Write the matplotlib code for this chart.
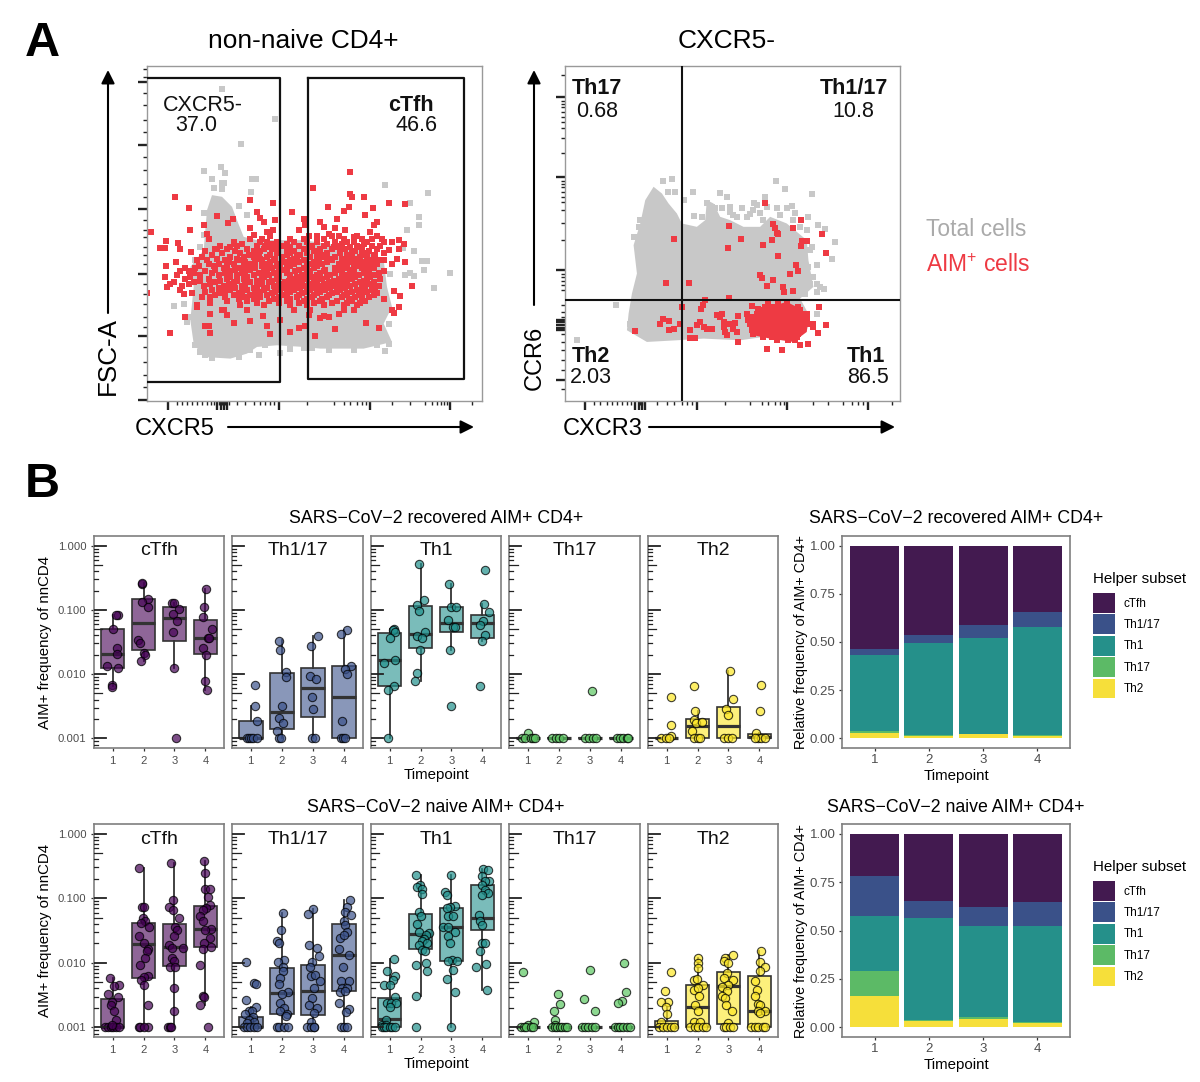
import numpy as np
import matplotlib
matplotlib.use("Agg")
import matplotlib.pyplot as plt
from matplotlib.patches import Patch

plt.rcParams['font.family'] = 'Liberation Sans'
plt.rcParams['mathtext.default'] = 'regular'

W, H = 1200, 1082
subsets = ['cTfh', 'Th1/17', 'Th1', 'Th17', 'Th2']
colors = ['#440154', '#3B528B', '#21908C', '#5DC863', '#FDE725']
stack_colors = ['#431A50', '#3A5189', '#25908A', '#5CBA66', '#F6DF3A']
red = '#EE3A43'
light_grey = '#C8C8C8'

# --- panel A, flow plots, values are plot channels ---
grey1_outline = [(365,405),(395,410),(425,440),(440,480),(460,530),(500,540),(640,540),(830,570),(880,600),
                 (890,680),(905,740),(880,790),(905,845),(820,865),(740,865),(690,865),(640,860),(560,855),
                 (500,860),(470,880),(420,895),(340,890),(310,850),(300,780),(310,680),(300,620),(340,570),
                 (345,510),(350,450)]
grey1_pts = [(395,88),(553,178),(451,252),(340,333),(393,320),(405,340),(365,358),(395,370),(400,368),(485,358),
             (498,358),(372,385),(395,388),(483,397),(883,375),(1013,398),(958,430),(985,472),(985,495),(950,510),
             (938,562),(972,572),(995,602),(1010,602),(1000,630),(960,638),(945,645),(970,648),(1078,637),(1030,684),
             (900,640),(250,738),(280,730),(505,885),(568,877),(883,872),(640,862),(470,465),(445,437),(340,460),
             (300,770),(290,785),(315,855),(895,790),(330,875),(345,885),(365,893),(445,890),(480,868),(525,855),
             (600,865),(665,862),(715,868),(790,868),(860,855),(895,850),(340,525),(330,560),(315,600),(305,640)]
red1_pts = [(780,335),(667,385),(780,402),(784,412),(820,412),(254,412),(478,420),(895,430),(945,432),(548,428),
            (714,440),(775,440),(760,452),(848,445),(297,445),(500,455),(605,455),(825,465),(380,468),(428,476),
            (412,488),(340,495),(510,475),(520,485),(555,480),(640,478),(645,495),(690,485),(740,478),(860,485),
            (850,495),(183,515),(298,510),(480,505),(548,510),(625,510),(700,500),(735,505),(765,510),(840,515),
            (350,520),(490,525),(530,515),(715,520),(790,530),(875,535),(925,540),(940,550),(228,543),(262,547),
            (355,535),(210,563),(225,563),(270,565),(302,575),(380,565),(432,550),(925,565),(895,570),(945,606),
            (258,606),(226,618),(920,595),(905,610),(880,600),(225,650),(240,672),(230,680),(170,698),(270,690),
            (280,700),(965,676),(910,692),(930,708),(925,740),(880,715),(905,750),(912,757),(320,740),(285,770),
            (360,762),(345,796),(355,796),(360,818),(238,818),(432,787),(480,782),(517,766),(530,798),(538,822),
            (570,778),(600,814),(625,802),(645,798),(675,828),(735,806),(690,772),(700,768),(715,770),(745,762),
            (828,787),(865,802),(655,765),(395,750),(410,765)]
red1_rows = [
    (528, [540,655,680,725,745,800,860]),
    (537, [355,480,515,600,640,700,760,815,845]),
    (545, [430,510,530,560,610,650,680,735,770,790,830,880,905]),
    (550, [455,545,590,710,755,820]),
    (556, [390,440,500,525,575,625,665,700,745,800,845,870]),
    (561, [420,535,560,600,655,730,780,810]),
    (567, [375,410,470,520,545,590,640,690,725,765,815,860]),
    (572, [345,435,490,510,610,670,750,795,835]),
    (578, [395,450,505,560,600,650,680,710,750,785,830,880]),
    (584, [365,475,540,590,630,695,770,815,855]),
    (589, [335,420,460,490,530,575,620,660,700,735,775,810,850]),
    (595, [380,440,510,555,610,680,720,755,795,830]),
    (600, [320,350,405,445,515,550,600,640,685,725,760,800,840,870]),
    (606, [415,465,495,540,580,625,670,710,775,815,855]),
    (611, [355,385,430,475,530,570,610,655,695,745,790,825,860]),
    (617, [325,370,410,460,515,560,600,650,680,760,800,840]),
    (622, [285,315,400,450,495,545,590,640,670,735,770,815,850]),
    (628, [375,435,480,530,575,625,705,745,785,830]),
    (633, [270,295,345,420,465,520,565,615,660,700,755,790,835,880]),
    (639, [310,365,405,455,505,550,590,650,690,735,780,820,865]),
    (644, [260,330,385,440,490,535,600,635,680,720,770,805,855]),
    (650, [300,420,470,520,565,620,665,710,755,795,840]),
    (655, [285,355,410,460,515,560,610,650,695,745,785,830,870]),
    (661, [330,390,440,500,545,595,635,680,730,770,820]),
    (666, [250,310,375,430,480,535,585,625,670,715,760,810,850]),
    (672, [295,360,415,465,515,565,610,655,700,745,795,840]),
    (677, [275,340,400,455,500,550,600,645,690,735,780,825,865]),
    (683, [385,435,490,530,585,630,675,720,765,815,855]),
    (688, [365,420,470,520,570,610,660,705,750,800,845]),
    (694, [345,405,455,510,555,600,650,690,740,785,830]),
    (699, [305,385,445,495,545,590,635,680,725,770,815,860]),
    (705, [375,430,480,530,580,625,670,715,760,805,850]),
    (711, [335,360,405,460,510,565,620,665,710,755,795,835]),
    (717, [445,490,550,600,650,695,775,815]),
    (722, [410,470,535,590,640,690,740,785,825]),
    (729, [360,500,565,625,670,725,770,810]),
    (735, [320,450,520,600,650,700,760,800]),
    (748, [400,470,610,660,760,790]),
]
gate1_x = [170, 568, 568, 170]
gate1_y = [55, 55, 965, 965]
gate2_x = [653, 1122, 1122, 653, 653]
gate2_y = [55, 55, 955, 955, 55]
ax1_ymaj = [66, 255, 447, 640, 828, 1020]
ax1_ymin = [28, 50, 100, 135, 180, 215, 290, 330, 372, 410, 480, 510, 530, 560, 585, 610,
            670, 700, 730, 770, 800, 860, 905, 945, 980]
ax1_xmaj = [232, 380, 392, 400, 410, 565, 838, 1078]
ax1_xmin = [260, 275, 290, 305, 320, 335, 350, 362, 372, 385, 396, 405, 415, 440, 465, 490, 510, 525, 540, 552,
            650, 730, 760, 780, 800, 815, 828, 905, 960, 1005, 1025, 1040, 1052, 1062, 1070, 1145]

grey2_outline = [(290,810),(295,760),(305,700),(320,640),(310,555),(330,490),(345,420),(370,380),(395,400),(415,430),
                 (440,460),(455,490),(500,500),(525,480),(530,420),(550,430),(570,470),(600,480),(640,500),(690,500),
                 (720,470),(770,490),(830,540),(835,600),(850,680),(810,715),(840,770),(830,810),(780,830),(700,830),
                 (630,840),(520,835),(440,840),(350,845)]
grey2_pts = [(397,362),(425,358),(738,362),(765,388),(845,402),(412,395),(435,395),(487,397),(570,398),(590,410),
             (705,412),(460,420),(530,430),(545,440),(490,468),(515,470),(635,445),(660,462),(672,430),(680,435),
             (785,437),(795,460),(835,470),(865,495),(885,508),(915,545),(840,570),(905,595),(860,615),(860,670),
             (882,685),(860,695),(258,735),(140,838),(330,480),(325,500),(610,465),(600,440),(700,480),(750,465),
             (860,760),(300,790),(310,530),(555,445),(575,445),(600,455),(620,470),(650,470),(670,450),(690,460),
             (710,440),(740,445),(770,445),(790,480),(810,500),(830,510),(845,560),(820,590),(835,620),(850,650),
             (870,680),(845,790),(840,670),(825,700)]
red2_core = [(700,745),(770,725),(810,745),(835,775),(830,815),(790,845),(720,835),(670,825),(665,785)]
red2_pts = [(705,430),(812,480),(597,498),(730,492),(735,505),(740,518),(745,520),(790,503),(875,520),(430,535),
            (632,535),(725,540),(815,543),(830,543),(812,558),(700,555),(592,563),(888,578),(745,587),(797,615),
            (805,632),(780,640),(690,645),(697,652),(730,660),(710,677),(408,668),(475,668),(760,680),(762,695),
            (788,692),(597,712),(525,720),(517,735),(513,747),(455,740),(665,738),(685,745),(868,740),(575,760),
            (560,765),(570,770),(397,775),(390,790),(415,782),(450,790),(313,813),(415,810),(432,805),(480,810),
            (500,795),(510,785),(520,800),(530,805),(545,805),(580,785),(600,790),(615,788),(610,805),(625,768),
            (650,760),(655,780),(660,790),(580,800),(585,815),(590,825),(620,815),(480,833),(495,833),(625,845),
            (848,790),(888,795),(865,818),(835,850),(810,855),(755,868),(710,865),(850,800)]
red2_rows = [
    (730, [715,745,770]),
    (740, [705,725,750,775,805]),
    (750, [690,710,730,755,780,810]),
    (760, [680,700,720,745,765,790,815,830]),
    (770, [670,690,710,730,750,775,800,825]),
    (780, [665,680,700,720,740,760,785,810,830]),
    (790, [670,690,710,730,750,770,795,815,830]),
    (800, [680,700,720,740,760,780,800,820]),
    (810, [665,690,710,730,750,770,790,810]),
    (820, [670,700,720,745,765,785,805]),
    (830, [700,725,755,785,800]),
    (840, [740,775,795]),
]
ax2_ymaj = [112, 352, 628, 778, 786, 794, 802, 810, 960]
ax2_ymin = [46, 122, 132, 142, 155, 170, 185, 205, 235, 280, 362, 372, 382, 395, 410, 425, 450, 490, 540,
            640, 650, 662, 675, 690, 735, 755, 770, 820, 845, 870, 900, 930, 985]
ax2_xmaj = [165, 315, 325, 335, 345, 500, 772, 1015]
ax2_xmin = [190, 210, 230, 245, 260, 275, 290, 302, 330, 340, 380, 410, 430, 455, 470, 485,
            585, 660, 695, 715, 735, 750, 762, 850, 895, 940, 965, 985, 1000, 1085]
quad_x = 454
quad_y = 718

# --- panel B, log10 AIM+ frequency, points are (timepoint with jitter, log10 freq) ---
# box stats per timepoint: whisker low, q1, median, q3, whisker high
rec_cTfh_pts = [(1.17,-1.08),(1.11,-1.08),(1.01,-1.30),(1.15,-1.59),(1.13,-1.69),(0.83,-1.87),(1.19,-1.91),(0.97,-2.17),(0.97,-2.20),
                (1.94,-0.60),(1.96,-0.58),(2.13,-0.83),(1.95,-0.87),(2.15,-0.95),(1.81,-1.47),(1.89,-1.51),(2.00,-1.67),(2.04,-1.70),(1.91,-1.79),
                (2.91,-0.89),(2.98,-0.89),(3.15,-0.99),(2.95,-1.07),(3.09,-1.17),(2.95,-1.34),(2.98,-1.91),(3.05,-3.0),
                (4.01,-0.68),(3.94,-0.96),(3.91,-1.11),(4.20,-1.29),(4.09,-1.44),(4.12,-1.44),(3.93,-1.60),(4.03,-1.71),(4.00,-2.10),(4.06,-2.25)]
rec_cTfh_box = [(-2.19,-1.91,-1.68,-1.30,-1.08),(-1.79,-1.63,-1.21,-0.83,-0.58),(-1.91,-1.48,-1.12,-0.96,-0.89),(-2.25,-1.69,-1.44,-1.15,-0.68)]

rec_Th117_pts = [(1.13,-2.17),(1.15,-2.50),(1.20,-2.73),(0.87,-3),(0.93,-3),(1.0,-3),(1.07,-3),(1.2,-3),
                 (1.90,-1.48),(1.95,-1.62),(2.14,-1.96),(2.12,-2.04),(2.0,-2.49),(1.92,-2.69),(2.05,-2.76),(1.83,-2.88),(1.91,-3),(1.97,-3),
                 (3.15,-1.40),(2.94,-1.56),(2.90,-2.03),(3.10,-2.07),(2.97,-2.36),(2.99,-2.55),(2.96,-3),(3.06,-3),
                 (4.09,-1.32),(3.91,-1.38),(4.21,-1.87),(4.03,-1.92),(4.09,-2.0),(3.93,-2.73),(3.90,-3),(3.96,-3),(4.03,-3)]
rec_Th117_box = [(-3,-3,-3,-2.73,-2.5),(-3,-2.85,-2.59,-1.98,-1.47),(-3,-2.66,-2.21,-1.91,-1.40),(-3,-3,-2.36,-1.88,-1.32)]

rec_Th1_pts = [(1.14,-1.30),(1.11,-1.32),(1.19,-1.34),(1.0,-1.44),(1.19,-1.78),(0.82,-1.82),(1.14,-2.19),(0.95,-2.25),(0.95,-3),
               (1.95,-0.28),(2.12,-0.85),(1.90,-0.93),(1.94,-1.02),(2.13,-1.35),(1.90,-1.41),(2.04,-1.44),(1.99,-1.63),(1.90,-1.98),(1.81,-2.10),
               (2.93,-0.59),(2.98,-0.96),(3.15,-0.96),(2.88,-1.15),(3.06,-1.26),(3.10,-1.26),(2.96,-1.62),(2.98,-2.49),
               (4.09,-0.38),(4.04,-0.91),(4.20,-1.04),(4.02,-1.17),(3.91,-1.23),(4.07,-1.39),(3.99,-1.48),(3.93,-2.19)]
rec_Th1_box = [(-3,-2.19,-1.78,-1.36,-1.30),(-2.10,-1.59,-1.38,-0.94,-0.28),(-1.62,-1.35,-1.20,-0.96,-0.59),(-1.48,-1.44,-1.20,-1.08,-0.91)]

rec_Th17_pts = [(1.0,-2.92),(0.82,-3),(0.91,-3),(1.11,-3),(1.17,-3),(1.22,-3),
                (1.78,-3),(1.90,-3),(2.01,-3),(2.12,-3),
                (2.85,-3),(2.98,-3),(3.09,-3),(3.19,-3),(3.06,-2.26),
                (3.86,-3),(3.97,-3),(4.04,-3),(4.18,-3),(4.23,-3)]
rec_Th17_box = [(-3,-3,-3,-3,-3)] * 4

rec_Th2_pts = [(1.13,-2.36),(1.13,-2.79),(1.15,-2.97),(0.81,-3),(0.97,-3),(1.07,-3),
               (1.90,-2.19),(1.93,-2.58),(1.89,-2.71),(1.95,-2.76),(2.14,-2.74),(1.82,-2.88),(1.90,-3),(2.01,-3),(2.09,-3),
               (3.05,-1.95),(3.14,-2.39),(2.93,-2.54),(2.98,-2.64),(2.87,-3),(2.98,-3),(3.11,-3),
               (4.05,-2.17),(4.03,-2.58),(3.90,-2.91),(3.96,-3),(4.06,-3),(4.17,-3),(3.87,-3)]
rec_Th2_box = [(-3,-3,-3,-3,-3),(-3,-3,-2.81,-2.70,-2.58),(-3,-3,-2.81,-2.51,-1.95),(-3,-3,-2.98,-2.93,-2.91)]

nv_cTfh_pts = [(0.92,-2.24),(1.2,-2.34),(1.04,-2.36),(0.86,-2.48),(1.18,-2.53),(0.99,-2.6),(0.94,-2.65),(1.04,-2.75),(1.1,-2.88),
               (0.77,-3),(0.85,-3),(0.94,-3),(1.01,-3),(1.1,-3),(1.2,-3),(0.99,-2.96),
               (1.84,-0.53),(1.95,-1.13),(2.0,-1.14),(1.98,-1.30),(2.05,-1.35),(1.91,-1.39),(2.19,-1.44),(1.84,-1.59),(2.0,-1.7),(2.13,-1.78),
               (2.11,-1.82),(2.05,-1.93),(1.88,-2.03),(2.13,-2.21),(2.0,-2.22),(1.91,-2.26),(2.02,-2.34),(2.13,-2.66),(1.84,-3),(1.89,-3),(2.13,-3),(2.0,-3),
               (2.88,-0.46),(2.94,-1.02),(2.83,-1.13),(2.95,-1.19),(3.13,-1.3),(3.02,-1.44),(3.07,-1.49),(2.97,-1.59),(2.81,-1.72),(2.92,-1.77),
               (3.27,-1.77),(2.92,-1.93),(2.99,-1.98),(2.86,-2.06),(3.02,-2.06),(3.0,-2.39),(3.0,-2.75),(2.78,-3),(2.84,-3),(2.9,-3),
               (3.95,-0.42),(4.0,-0.61),(4.0,-0.86),(4.14,-0.86),(4.09,-0.98),(4.16,-1.1),(4.03,-1.15),(3.93,-1.18),(3.84,-1.28),(3.93,-1.36),
               (4.19,-1.48),(3.98,-1.49),(4.14,-1.62),(3.95,-1.7),(4.19,-1.75),(3.93,-1.78),(3.82,-2.03),(3.93,-2.52),(3.96,-2.53),(3.84,-2.66),(4.09,-3)]
nv_cTfh_box = [(-3,-3,-3,-2.56,-2.24),(-3,-2.23,-1.71,-1.39,-0.53),(-3,-2.05,-1.76,-1.40,-0.46),(-2.66,-1.76,-1.48,-1.12,-0.42)]

nv_Th117_pts = [(0.86,-1.99),(1.12,-2.31),(1.18,-2.33),(0.86,-2.58),(1.18,-2.68),(0.94,-2.74),(1.04,-2.75),(0.83,-2.8),(1.07,-2.84),(0.94,-2.88),
                (1.12,-2.92),(0.88,-2.93),(0.78,-3),(0.88,-3),(0.99,-3),(1.09,-3),(1.2,-3),
                (2.03,-1.23),(1.97,-1.49),(1.83,-1.66),(1.9,-1.7),(2.07,-1.95),(1.88,-1.99),(2.02,-2.07),(2.05,-2.13),(1.95,-2.24),(1.9,-2.33),
                (2.19,-2.46),(2.0,-2.48),(1.95,-2.62),(2.07,-2.7),(1.93,-2.75),(2.16,-2.8),(2.14,-2.83),(1.83,-3),(1.9,-3),(2.07,-3),(2.18,-3),
                (3.0,-1.17),(2.83,-1.24),(2.87,-1.73),(3.13,-1.77),(3.18,-1.89),(2.97,-1.99),(2.9,-2.06),(2.92,-2.21),(3.07,-2.19),(3.21,-2.28),
                (3.02,-2.39),(2.97,-2.55),(2.86,-2.65),(3.13,-2.7),(3.02,-2.78),(2.92,-2.91),(2.8,-3),(2.94,-3),(3.02,-3),(3.04,-3),
                (4.17,-1.03),(4.09,-1.13),(4.03,-1.21),(4.21,-1.26),(3.98,-1.36),(4.03,-1.41),(4.09,-1.52),(3.87,-1.61),(3.98,-1.57),(3.82,-1.79),
                (4.16,-1.88),(3.96,-2.07),(3.9,-2.29),(4.14,-2.29),(3.93,-2.39),(4.09,-2.39),(3.87,-2.45),(4.03,-2.44),(3.82,-2.63),(4.14,-2.72),
                (4.06,-2.76),(3.9,-3),(4.0,-3),(4.09,-3)]
nv_Th117_box = [(-3,-3,-3,-2.84,-2.68),(-3,-2.80,-2.47,-2.08,-1.23),(-3,-2.81,-2.44,-2.03,-1.17),(-3,-2.43,-1.88,-1.40,-1.03)]

nv_Th1_pts = [(1.14,-1.94),(0.93,-2.13),(1.17,-2.21),(1.11,-2.26),(0.82,-2.34),(1.0,-2.34),(1.17,-2.53),(0.93,-2.62),(1.06,-2.63),(1.21,-2.62),
              (1.0,-2.68),(0.87,-2.88),(0.77,-2.96),(0.87,-2.96),(0.75,-3),(0.83,-3),(0.9,-3),(1.0,-3),(1.09,-3),(1.19,-3),
              (1.85,-0.64),(1.99,-0.8),(1.88,-0.82),(2.04,-0.86),(2.06,-0.94),(1.96,-1.21),(2.02,-1.27),(1.88,-1.4),(1.94,-1.52),(2.26,-1.54),
              (2.17,-1.57),(2.1,-1.63),(2.04,-1.67),(1.94,-1.72),(2.2,-1.7),(2.04,-1.8),(2.15,-1.82),(1.85,-2.03),(2.17,-2.01),(2.2,-2.12),(1.85,-2.51),(1.85,-3),
              (3.0,-0.64),(2.8,-0.91),(2.85,-0.95),(3.12,-1.12),(2.96,-1.13),(2.85,-1.15),(2.9,-1.27),(3.06,-1.28),(2.74,-1.44),(2.9,-1.45),
              (3.12,-1.52),(2.9,-1.59),(2.96,-1.7),(3.01,-1.95),(2.9,-1.98),(3.17,-1.98),(3.06,-2.11),(2.85,-2.25),(3.12,-2.46),(3.0,-3),
              (4.02,-0.55),(4.17,-0.57),(3.97,-0.66),(4.22,-0.73),(4.07,-0.74),(3.97,-0.79),(4.07,-0.87),(4.17,-0.92),(3.97,-0.95),(3.88,-1.26),
              (3.91,-1.36),(3.97,-1.41),(3.97,-1.7),(4.07,-1.7),(3.91,-1.81),(3.8,-2.07),(4.12,-2.02),(4.14,-2.42)]
nv_Th1_box = [(-3,-3,-2.87,-2.54,-1.94),(-2.51,-1.79,-1.56,-1.25,-0.64),(-3,-1.97,-1.45,-1.15,-0.64),(-2.42,-1.49,-1.31,-0.8,-0.55)]

nv_Th17_pts = [(0.85,-2.15),(1.19,-2.91),(1.0,-2.96),(0.77,-3),(0.88,-3),(0.96,-3),(1.09,-3),(1.17,-3),
               (1.97,-2.48),(2.04,-2.64),(1.85,-2.74),(1.88,-2.88),(1.88,-2.96),(1.78,-3),(1.87,-3),(1.94,-3),(2.02,-3),(2.1,-3),(2.18,-3),(2.26,-3),
               (3.0,-2.11),(2.82,-2.56),(3.17,-2.74),(2.74,-3),(2.85,-3),(2.94,-3),(3.06,-3),(3.17,-3),
               (4.1,-2.01),(4.16,-2.45),(4.02,-2.59),(3.91,-2.63),(3.81,-3),(3.89,-3),(3.97,-3),(4.07,-3),(4.18,-3),(4.29,-3)]
nv_Th17_box = [(-3,-3,-3,-3,-3)] * 4

nv_Th2_pts = [(1.13,-2.15),(0.94,-2.43),(1.05,-2.61),(0.81,-2.6),(0.97,-2.68),(1.02,-2.8),(0.81,-2.91),(0.76,-3),(0.89,-3),(1.02,-3),(1.13,-3),(1.23,-3),
              (2.03,-1.93),(2.0,-2.01),(2.03,-2.08),(1.87,-2.26),(1.98,-2.25),(2.19,-2.34),(1.87,-2.42),(2.03,-2.39),(2.06,-2.52),(1.93,-2.65),(2.03,-2.75),
              (1.87,-2.91),(2.09,-2.91),(1.77,-3),(1.91,-3),(2.03,-3),(2.19,-3),(2.27,-3),
              (3.14,-1.88),(2.89,-1.93),(2.84,-1.98),(3.0,-2.01),(2.95,-2.16),(2.84,-2.23),(3.16,-2.26),(3.0,-2.34),(2.79,-2.37),(2.95,-2.44),(2.79,-2.51),
              (2.89,-2.55),(2.93,-2.66),(3.11,-2.74),(3.0,-2.93),(2.84,-3),(2.91,-3),(3.05,-3),(3.16,-3),
              (4.06,-1.82),(4.01,-1.99),(4.17,-2.07),(4.01,-2.12),(3.87,-2.28),(3.93,-2.42),(3.87,-2.52),(3.96,-2.64),(4.03,-2.66),(3.96,-2.75),(4.17,-2.75),
              (4.01,-2.78),(3.74,-3),(3.85,-3),(3.96,-3),(4.12,-3),(4.19,-3)]
nv_Th2_box = [(-3,-3,-3,-2.9,-2.68),(-3,-3,-2.69,-2.35,-1.93),(-3,-2.95,-2.36,-2.14,-1.88),(-3,-3,-2.74,-2.2,-1.82)]

rec_pts = [rec_cTfh_pts, rec_Th117_pts, rec_Th1_pts, rec_Th17_pts, rec_Th2_pts]
rec_box = [rec_cTfh_box, rec_Th117_box, rec_Th1_box, rec_Th17_box, rec_Th2_box]
nv_pts = [nv_cTfh_pts, nv_Th117_pts, nv_Th1_pts, nv_Th17_pts, nv_Th2_pts]
nv_box = [nv_cTfh_box, nv_Th117_box, nv_Th1_box, nv_Th17_box, nv_Th2_box]

timepoints = [1, 2, 3, 4]
# relative frequency per subset at timepoints 1-4
rec_stack = {'Th2': [.028, .012, .022, .012], 'Th17': [.008, .003, .002, .003], 'Th1': [.399, .478, .497, .562],
             'Th1/17': [.031, .041, .067, .079], 'cTfh': [.534, .466, .412, .344]}
nv_stack = {'Th2': [.16, .033, .045, .022], 'Th17': [.129, .007, .01, .006], 'Th1': [.288, .527, .47, .497],
            'Th1/17': [.207, .083, .095, .12], 'cTfh': [.216, .35, .38, .355]}

panel_x = [(94, 224), (232, 363), (371, 501), (509, 640), (648, 778)]

fig = plt.figure(figsize=(12, 10.82), dpi=100)


def add_ax(x0, y0, x1, y1):
    return fig.add_axes([x0 / W, 1 - y1 / H, (x1 - x0) / W, (y1 - y0) / H])


def ftext(x, y, s, **kw):
    kw.setdefault('va', 'baseline')
    return fig.text(x / W, 1 - y / H, s, **kw)


def arrow(x0, y0, x1, y1):
    fig.axes[0].annotate('', xy=(x1 / W, 1 - y1 / H), xytext=(x0 / W, 1 - y0 / H),
                         xycoords='figure fraction', textcoords='figure fraction', annotation_clip=False,
                         arrowprops=dict(arrowstyle='-|>', lw=1.5, color='black', mutation_scale=20, shrinkA=0, shrinkB=0))


def flow_axes(box, xlim, ylim, ymaj, ymin, xmaj, xmin):
    ax = add_ax(*box)
    ax.set_xlim(*xlim)
    ax.set_ylim(*ylim)
    ax.set_xticks(xmaj)
    ax.set_xticks(xmin, minor=True)
    ax.set_yticks(ymaj)
    ax.set_yticks(ymin, minor=True)
    ax.set_xticklabels([])
    ax.set_yticklabels([])
    ax.tick_params(which='major', length=6.5, width=1.7, color='#222222')
    ax.tick_params(which='minor', length=3.2, width=1.0, color='#222222')
    for s in ax.spines.values():
        s.set_color('#999999')
        s.set_linewidth(1)
    return ax


def rows_to_xy(rows):
    return [x for y, xs in rows for x in xs], [y for y, xs in rows for x in xs]


def flow_points(ax, outline, grey_pts, red_pts, red_rows):
    ax.fill(*zip(*outline), color=light_grey, lw=0, zorder=1)
    ax.scatter(*zip(*grey_pts), marker='s', s=14, color=light_grey, lw=0, zorder=1)
    ax.scatter(*zip(*red_pts), marker='s', s=15, color=red, lw=0, zorder=2)
    rx, ry = rows_to_xy(red_rows)
    ax.scatter(rx, ry, marker='s', s=15, color=red, lw=0, zorder=2)


# panel A
ax1 = flow_axes((147, 66, 482, 401), (170, 1175), (1022, 18), ax1_ymaj, ax1_ymin, ax1_xmaj, ax1_xmin)
flow_points(ax1, grey1_outline, grey1_pts, red1_pts, red1_rows)
ax1.plot(gate1_x, gate1_y, color='#111111', lw=1.6, zorder=3)
ax1.plot(gate2_x, gate2_y, color='#111111', lw=1.6, zorder=3)

ax2 = flow_axes((565, 66, 900, 401), (104, 1110), (1022, 18), ax2_ymaj, ax2_ymin, ax2_xmaj, ax2_xmin)
flow_points(ax2, grey2_outline, grey2_pts, red2_pts, red2_rows)
ax2.fill(*zip(*red2_core), color=red, lw=0, zorder=2)
ax2.axvline(quad_x, color='#111111', lw=1.5, zorder=3)
ax2.axhline(quad_y, color='#111111', lw=1.5, zorder=3)

ftext(25, 56, 'A', fontsize=35, fontweight='bold')
ftext(25, 497, 'B', fontsize=35, fontweight='bold')
ftext(303, 48, 'non-naive CD4+', fontsize=18.9, ha='center')
ftext(727, 48, 'CXCR5-', fontsize=19, ha='center')

for x, y, s, bold in [(163, 111, 'CXCR5-', False), (175, 131, '37.0', False), (388, 111, 'cTfh', True), (395, 131, '46.6', False),
                      (572, 94, 'Th17', True), (576, 117, '0.68', False), (820, 94, 'Th1/17', True), (832, 117, '10.8', False),
                      (572, 362, 'Th2', True), (570, 383, '2.03', False), (847, 362, 'Th1', True), (847, 383, '86.5', False)]:
    ftext(x, y, s, fontsize=15.5, fontweight='bold' if bold else 'normal', color='#111111')

ftext(108, 395, 'FSC-A', fontsize=18.7, rotation=90, ha='center', va='bottom')
ftext(135, 435, 'CXCR5', fontsize=17)
ftext(535, 390, 'CCR6', fontsize=17, rotation=90, ha='center', va='bottom')
ftext(563, 435, 'CXCR3', fontsize=17)
arrow(108, 313, 108, 70)
arrow(228, 427, 474, 427)
arrow(534, 305, 534, 70)
arrow(649, 427, 895, 427)
ftext(926, 236, 'Total cells', fontsize=16.5, color='#AAAAAA')
ftext(926, 272, r'AIM$^{+}$ cells', fontsize=16.5, color=red)


def box_panel(ax, pts, box, color, name, first, show_xlabel):
    xs, ys = zip(*pts)
    stats = [dict(whislo=10 ** b[0], q1=10 ** b[1], med=10 ** b[2], q3=10 ** b[3], whishi=10 ** b[4]) for b in box]
    rgb = matplotlib.colors.to_rgb(color)
    ax.set_yscale('log')
    ax.bxp(stats, positions=timepoints, widths=0.76, patch_artist=True, showfliers=False, showcaps=False,
           boxprops=dict(facecolor=rgb + (0.6,), edgecolor='#333333', lw=1.2),
           whiskerprops=dict(color='#333333', lw=1.3),
           medianprops=dict(color='#333333', lw=2.3, solid_capstyle='butt'), zorder=2)
    ax.scatter(xs, 10 ** np.array(ys), s=36, facecolor=rgb + (0.7,), edgecolor=(0, 0, 0, 0.75), lw=0.8, zorder=3, clip_on=False)
    ax.set_xlim(0.4, 4.6)
    ax.set_ylim(10 ** -3.15, 10 ** 0.15)
    ax.set_xticks(timepoints)
    ax.set_xticklabels(timepoints)
    ax.set_yticks([1, 0.1, 0.01, 0.001])
    ax.minorticks_off()
    if first:
        ax.set_yticklabels(['1.000', '0.100', '0.010', '0.001'])
        ax.set_ylabel('AIM+ frequency of nnCD4', fontsize=10.8, labelpad=4)
    else:
        ax.set_yticklabels([])
        ax.tick_params(axis='y', length=0)
    ax.tick_params(labelsize=8.1, labelcolor='#4D4D4D', color='#333333', length=2.5, width=0.9, pad=3)
    if not first:
        ax.tick_params(axis='y', length=0)
    # log ticks along the left side
    trans = ax.get_yaxis_transform()
    for d in [0, -1, -2, -3]:
        ax.plot([0, 0.095], [10.0 ** d] * 2, color='#222222', lw=1.3, transform=trans, zorder=4)
    for d in [-1, -2, -3, -4]:
        for m in range(2, 10):
            v = m * 10.0 ** d
            if v < 10 ** -3.15:
                continue
            ax.plot([0, 0.065 if m == 5 else 0.032], [v, v], color='#222222', lw=0.9, transform=trans, zorder=4)
    ax.text(0.5, 1 - 15 / 212, name, transform=ax.transAxes, ha='center', va='center', fontsize=14, color='#111111')
    for s in ax.spines.values():
        s.set_color('#7F7F7F')
        s.set_linewidth(1.2)
    if show_xlabel:
        ax.set_xlabel('Timepoint', fontsize=10.8, labelpad=2)


def stack_panel(ax, stack):
    bottom = np.zeros(4)
    for name, color in zip(subsets[::-1], stack_colors[::-1]):
        ax.bar(timepoints, stack[name], bottom=bottom, width=0.9, color=color, lw=0)
        bottom += np.array(stack[name])
    ax.set_xlim(0.4, 4.6)
    ax.set_ylim(-0.05, 1.05)
    ax.set_xticks(timepoints)
    ax.set_yticks([0, 0.25, 0.5, 0.75, 1.0])
    ax.set_yticklabels(['0.00', '0.25', '0.50', '0.75', '1.00'])
    ax.tick_params(labelsize=9.5, labelcolor='#4D4D4D', color='#333333', length=2.5, width=0.9, pad=2)
    ax.set_xlabel('Timepoint', fontsize=10.8, labelpad=2)
    ax.set_ylabel('Relative frequency of AIM+ CD4+', fontsize=10.4, labelpad=1)
    for s in ax.spines.values():
        s.set_color('#7F7F7F')
        s.set_linewidth(1.2)


for row_top, row_bot, pts, box, stack, title_y, stack_title, main_title in [
        (536, 748, rec_pts, rec_box, rec_stack, 523, 'SARS\u2212CoV\u22122 recovered AIM+ CD4+', 'SARS\u2212CoV\u22122 recovered AIM+ CD4+'),
        (824, 1037, nv_pts, nv_box, nv_stack, 812, 'SARS\u2212CoV\u22122 naive AIM+ CD4+', 'SARS\u2212CoV\u22122 naive AIM+ CD4+')]:
    for i, (x0, x1) in enumerate(panel_x):
        ax = add_ax(x0, row_top, x1, row_bot)
        box_panel(ax, pts[i], box[i], colors[i], subsets[i], i == 0, i == 2)
    ftext(436, title_y, main_title, fontsize=12.8, ha='center')
    ftext(956, title_y, stack_title, fontsize=12.8, ha='center')
    sax = add_ax(842, row_top, 1070, row_bot)
    stack_panel(sax, stack)
    handles = [Patch(color=c, lw=0) for c in stack_colors]
    leg = fig.legend(handles, subsets, loc='upper left', bbox_to_anchor=(1093 / W, 1 - (row_top + 36) / H),
                     frameon=False, fontsize=8.5, title='Helper subset', title_fontsize=10.9, alignment='left',
                     handlelength=1.86, handleheight=2.2, labelspacing=0.14, handletextpad=0.75,
                     borderpad=0, borderaxespad=0)
    leg._legend_box.sep = 5

fig.savefig('out.png', dpi=100)
